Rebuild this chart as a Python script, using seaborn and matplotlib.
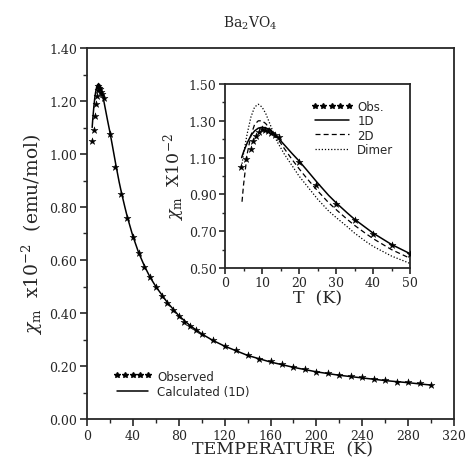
import matplotlib

matplotlib.use("Agg")
import matplotlib.pyplot as plt
import seaborn as sns
from matplotlib.lines import Line2D
from matplotlib.ticker import FixedLocator, MultipleLocator, FormatStrFormatter

# observed susceptibility (x10^-2 emu/mol)
obs_t = [4.2, 5.8, 7.0, 7.6, 8.5, 9.3, 10.0, 10.8, 11.6, 12.5, 13.5, 14.5, 20, 24.5,
         30, 35, 40, 45, 50, 55, 60, 65, 70, 75, 80, 85, 90, 95, 100, 110, 120, 130,
         140, 150, 160, 170, 180, 190, 200, 210, 220, 230, 240, 250, 260, 270, 280,
         290, 300]
obs_chi = [1.05, 1.09, 1.145, 1.19, 1.22, 1.24, 1.255, 1.25, 1.245, 1.235, 1.225, 1.21,
           1.075, 0.952, 0.85, 0.76, 0.685, 0.625, 0.575, 0.535, 0.498, 0.465, 0.438,
           0.411, 0.387, 0.367, 0.351, 0.336, 0.319, 0.297, 0.277, 0.259, 0.242, 0.228,
           0.218, 0.206, 0.197, 0.189, 0.179, 0.172, 0.167, 0.163, 0.157, 0.152, 0.148,
           0.141, 0.138, 0.135, 0.130]

# 1D chain fit
calc_1d_t = [4.5, 5, 6, 7, 8, 9, 10, 11, 12, 13, 14, 16, 18, 20, 22, 25, 28, 30, 33,
             35, 38, 40, 45, 50, 55, 60, 70, 80, 90, 100, 110, 120, 140, 160, 180, 200,
             220, 240, 260, 280, 300]
calc_1d_chi = [1.10, 1.13, 1.18, 1.22, 1.245, 1.26, 1.265, 1.262, 1.252, 1.235, 1.215,
               1.17, 1.125, 1.082, 1.035, 0.963, 0.895, 0.855, 0.80, 0.765, 0.72, 0.69,
               0.628, 0.578, 0.535, 0.50, 0.44, 0.39, 0.352, 0.321, 0.296, 0.275, 0.24,
               0.215, 0.195, 0.178, 0.165, 0.155, 0.145, 0.137, 0.128]

# 2D fit (inset only)
calc_2d_t = [4.6, 5, 6, 7, 8, 9, 10, 11, 12, 13, 14, 16, 18, 20, 22, 25, 28, 30, 33,
             35, 38, 40, 45, 50]
calc_2d_chi = [0.86, 0.95, 1.12, 1.22, 1.28, 1.30, 1.30, 1.285, 1.26, 1.235, 1.21,
               1.15, 1.093, 1.04, 0.99, 0.92, 0.855, 0.818, 0.765, 0.732, 0.688, 0.66,
               0.60, 0.553]

# dimer fit (inset only)
dimer_t = [4.5, 5, 6, 7, 8, 9, 10, 11, 12, 13, 14, 16, 18, 20, 22, 25, 28, 30, 33, 35,
           38, 40, 45, 50]
dimer_chi = [1.05, 1.12, 1.23, 1.32, 1.375, 1.39, 1.375, 1.34, 1.29, 1.24, 1.19, 1.12,
             1.06, 1.00, 0.95, 0.875, 0.81, 0.775, 0.725, 0.69, 0.645, 0.618, 0.565,
             0.525]

inset_y_ticks = [0.50, 0.70, 0.90, 1.10, 1.30, 1.50]
INSET_MAX_T = 50

sns.set_theme(style="ticks")
plt.rcParams["font.family"] = ["DejaVu Serif"]
plt.rcParams["mathtext.fontset"] = "dejavuserif"

fig = plt.figure(figsize=(4.67, 4.60), dpi=100)
ax = fig.add_axes([87 / 467, 1 - 420 / 460, 367 / 467, 371 / 460])

sns.lineplot(x=calc_1d_t, y=calc_1d_chi, ax=ax, color="black", linewidth=1.1,
             sort=False)
sns.scatterplot(x=obs_t, y=obs_chi, ax=ax, color="black", marker="*", s=28,
                edgecolor="black", linewidth=0.3, zorder=3)

ax.set_xlim(0, 320)
ax.set_ylim(0, 1.40)
ax.xaxis.set_major_locator(MultipleLocator(40))
ax.xaxis.set_minor_locator(MultipleLocator(20))
ax.yaxis.set_major_locator(MultipleLocator(0.2))
ax.yaxis.set_minor_locator(MultipleLocator(0.1))
ax.yaxis.set_major_formatter(FormatStrFormatter("%.2f"))
ax.tick_params(which="major", direction="out", length=5, width=1.2, labelsize=9,
               pad=2)
ax.tick_params(which="minor", direction="out", length=3, width=1.0)
for s in ax.spines.values():
    s.set_visible(True)
    s.set_linewidth(1.3)

ax.set_xlabel("TEMPERATURE  (K)", fontsize=12.5, labelpad=-1, x=0.534)
ax.set_ylabel(r"$\chi_{\rm m}$  x10$^{-2}$  (emu/mol)", fontsize=13.5, labelpad=3)
fig.text(250 / 467, 1 - 23 / 460, r"Ba$_2$VO$_4$", ha="center", va="center",
         fontsize=10)

main_handles = [
    Line2D([], [], color="black", marker="*", linestyle="none", markersize=4),
    Line2D([], [], color="black", linewidth=1.1),
]
ax.legend(main_handles, ["Observed", "Calculated (1D)"], loc="lower left",
          bbox_to_anchor=(0.044, 0.028), frameon=False, numpoints=5, handlelength=3.2,
          handletextpad=0.5, labelspacing=0.2, prop={"family": "DejaVu Sans", "size": 8.5})

# inset
ins = fig.add_axes([225 / 467, 1 - 269 / 460, 185 / 467, 184 / 460])
sns.lineplot(x=calc_1d_t, y=calc_1d_chi, ax=ins, color="black", linewidth=1.1,
             sort=False)
sns.lineplot(x=calc_2d_t, y=calc_2d_chi, ax=ins, color="black", linewidth=0.9,
             linestyle=(0, (4, 2.5)), sort=False)
sns.lineplot(x=dimer_t, y=dimer_chi, ax=ins, color="black", linewidth=0.9,
             linestyle=(0, (1, 1.5)), sort=False)
ins_t = [t for t in obs_t if t <= INSET_MAX_T]
ins_chi = obs_chi[: len(ins_t)]
sns.scatterplot(x=ins_t, y=ins_chi, ax=ins, color="black", marker="*", s=28,
                edgecolor="black", linewidth=0.3, zorder=3)

ins.set_xlim(0, 50)
ins.set_ylim(0.5, 1.5)
ins.xaxis.set_major_locator(MultipleLocator(10))
ins.xaxis.set_minor_locator(MultipleLocator(5))
ins.yaxis.set_major_locator(FixedLocator(inset_y_ticks))
ins.yaxis.set_minor_locator(MultipleLocator(0.1))
ins.yaxis.set_major_formatter(FormatStrFormatter("%.2f"))
ins.tick_params(which="major", direction="out", length=4, width=1.2, labelsize=9,
                pad=2)
ins.tick_params(which="minor", direction="out", length=2.5, width=1.0)
for s in ins.spines.values():
    s.set_visible(True)
    s.set_linewidth(1.3)
ins.set_xlabel("T  (K)", fontsize=12.5, labelpad=0)
ins.set_ylabel(r"$\chi_{\rm m}$  X10$^{-2}$", fontsize=12.5, labelpad=1)

ins_handles = [
    Line2D([], [], color="black", marker="*", linestyle="none", markersize=4),
    Line2D([], [], color="black", linewidth=1.1),
    Line2D([], [], color="black", linewidth=0.9, linestyle=(0, (4, 2.5))),
    Line2D([], [], color="black", linewidth=0.9, linestyle=(0, (1, 1.5))),
]
ins.legend(ins_handles, ["Obs.", "1D", "2D", "Dimer"], loc="upper right",
           bbox_to_anchor=(0.968, 0.97), frameon=False, numpoints=5, handlelength=3.5,
           handletextpad=0.4, labelspacing=0.1, prop={"family": "DejaVu Sans", "size": 8.5})

fig.savefig("out.png", dpi=100)
